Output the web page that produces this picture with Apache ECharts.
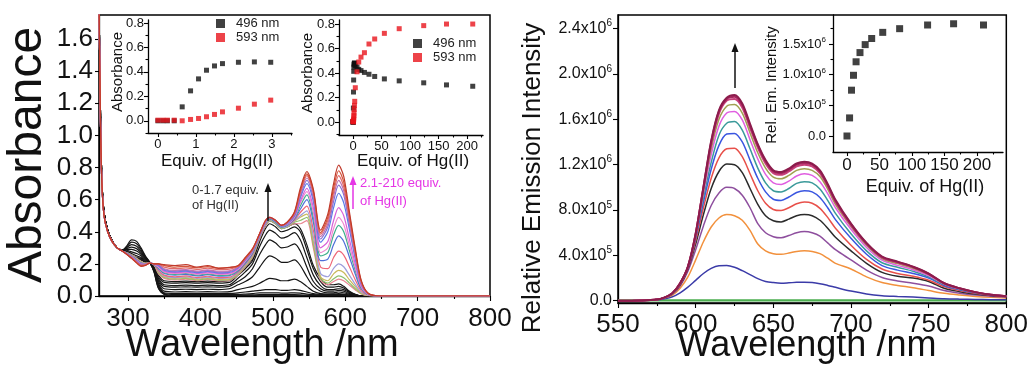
<!DOCTYPE html>
<html><head><meta charset="utf-8">
<script src="https://cdn.jsdelivr.net/npm/echarts@6/dist/echarts.min.js"></script>
<style>html,body{margin:0;padding:0;background:#fff}#c{width:1031px;height:366px}</style>
</head><body><div id="c"></div>
<script>
const FONT = "'Liberation Sans', Arial, Helvetica, sans-serif";

// ================= LEFT: absorption titration =================
const absWavelength = [260,262,264,267,272,278,285,292,298,305,312,318,324,330,336,342,350,365,380,395,410,425,440,452,462,472,482,490,496,504,512,520,530,538,547,556,566,576,584,591,598,606,614,622,632,650,800];

// 0 - 1.70 equiv (black curves)
const absEq000 = [1.85,1.15,0.72,0.52,0.41,0.345,0.30,0.285, 0.31,0.35,0.34,0.30,0.25,0.21, 0.15,0.05,0.01, 0,0,0,0,0,0, 0,0,0,0,0,0, 0,0,0,0,0,0, 0,0,0,0,0,0, 0,0,0,0,0,0];
const absEq013 = [1.85,1.15,0.72,0.52,0.41,0.345,0.30,0.285, 0.305,0.335,0.325,0.29,0.245,0.21, 0.15,0.05,0.012, 0.004,0.004,0.004,0.004,0.004,0.004, 0.005,0.006,0.007,0.008,0.008,0.008, 0.008,0.008,0.008,0.008,0.007,0.005, 0.003,0.002,0.002,0.002,0.002,0.002, 0.001,0,0,0,0,0];
const absEq025 = [1.85,1.15,0.72,0.52,0.41,0.345,0.30,0.285, 0.30,0.32,0.31,0.28,0.24,0.21, 0.155,0.06,0.015, 0.01,0.01,0.01,0.01,0.01,0.01, 0.01,0.012,0.015,0.02,0.02,0.02, 0.02,0.018,0.018,0.02,0.018,0.012, 0.008,0.005,0.004,0.004,0.005,0.004, 0.002,0,0,0,0,0];
const absEq043 = [1.85,1.15,0.72,0.52,0.41,0.345,0.30,0.285, 0.295,0.305,0.295,0.27,0.235,0.21, 0.16,0.07,0.02, 0.015,0.016,0.015,0.016,0.015,0.016, 0.02,0.025,0.03,0.035,0.04,0.04, 0.04,0.035,0.035,0.04,0.035,0.025, 0.015,0.01,0.008,0.008,0.009,0.008, 0.004,0.001,0,0,0,0];
const absEq064 = [1.85,1.15,0.72,0.52,0.41,0.345,0.30,0.285, 0.29,0.29,0.28,0.26,0.23,0.21, 0.165,0.08,0.03, 0.025,0.027,0.025,0.027,0.025,0.027, 0.04,0.05,0.06,0.08,0.10,0.11, 0.105,0.095,0.095,0.105,0.09,0.06, 0.03,0.015,0.012,0.013,0.015,0.012, 0.006,0.002,0,0,0,0];
const absEq086 = [1.85,1.15,0.72,0.52,0.41,0.345,0.30,0.285, 0.285,0.275,0.265,0.25,0.225,0.21, 0.17,0.09,0.045, 0.04,0.042,0.04,0.042,0.04,0.045, 0.07,0.09,0.12,0.18,0.23,0.25, 0.235,0.21,0.21,0.225,0.19,0.12, 0.06,0.03,0.02,0.02,0.025,0.02, 0.01,0.003,0,0,0,0];
const absEq107 = [1.85,1.15,0.72,0.52,0.41,0.345,0.30,0.285, 0.28,0.265,0.25,0.24,0.22,0.21, 0.17,0.10,0.06, 0.055,0.057,0.055,0.057,0.055,0.06, 0.09,0.12,0.17,0.26,0.32,0.35, 0.33,0.30,0.305,0.325,0.28,0.18, 0.09,0.045,0.03,0.03,0.035,0.03, 0.015,0.005,0,0,0,0];
const absEq128 = [1.85,1.15,0.72,0.52,0.41,0.345,0.30,0.285, 0.275,0.255,0.24,0.235,0.215,0.21, 0.175,0.11,0.07, 0.065,0.068,0.065,0.068,0.065,0.07, 0.11,0.15,0.20,0.31,0.38,0.41, 0.39,0.36,0.37,0.395,0.35,0.24, 0.13,0.065,0.04,0.04,0.045,0.04, 0.02,0.007,0,0,0,0];
const absEq149 = [1.85,1.15,0.72,0.52,0.41,0.345,0.30,0.285, 0.27,0.245,0.235,0.23,0.21,0.205, 0.18,0.12,0.085, 0.08,0.083,0.08,0.083,0.08,0.085, 0.13,0.17,0.22,0.34,0.42,0.45, 0.43,0.40,0.41,0.43,0.40,0.29, 0.17,0.09,0.055,0.055,0.06,0.05, 0.025,0.009,0,0,0,0];
const absEq170 = [1.85,1.15,0.72,0.52,0.41,0.345,0.30,0.285, 0.265,0.235,0.23,0.225,0.21,0.205, 0.18,0.13,0.095, 0.09,0.093,0.09,0.093,0.09,0.095, 0.14,0.18,0.23,0.36,0.44,0.47, 0.45,0.42,0.43,0.45,0.42,0.32, 0.19,0.11,0.07,0.07,0.075,0.06, 0.03,0.01,0,0,0,0];

// 2.1 - 210 equiv (coloured curves)
const absEq212 = [1.85,1.1,0.7,0.5,0.40,0.34,0.30,0.28, 0.27,0.255,0.235,0.215,0.205,0.205, 0.195,0.14,0.11, 0.10,0.105,0.095,0.103,0.094,0.097, 0.13,0.18,0.24,0.36,0.44,0.47, 0.45,0.42,0.43,0.45,0.45,0.47, 0.30,0.10,0.07,0.09,0.105,0.095, 0.067,0.038,0.013,0.002,0,0];
const absEq254 = [1.85,1.1,0.7,0.5,0.40,0.34,0.30,0.28, 0.27,0.254,0.233,0.213,0.204,0.205, 0.195,0.145,0.115, 0.105,0.11,0.10,0.108,0.099,0.102, 0.135,0.185,0.245,0.365,0.445,0.47, 0.45,0.42,0.43,0.46,0.47,0.49, 0.32,0.11,0.08,0.107,0.125,0.114, 0.08,0.045,0.015,0.003,0,0];
const absEq297 = [1.85,1.1,0.7,0.5,0.40,0.34,0.30,0.28, 0.269,0.252,0.231,0.211,0.203,0.205, 0.196,0.15,0.12, 0.11,0.115,0.105,0.113,0.104,0.107, 0.14,0.19,0.25,0.37,0.45,0.475, 0.455,0.425,0.435,0.465,0.49,0.51, 0.34,0.12,0.095,0.138,0.16,0.146, 0.10,0.058,0.019,0.004,0,0];
const absEq4 = [1.85,1.1,0.7,0.5,0.40,0.34,0.30,0.28, 0.268,0.251,0.229,0.209,0.202,0.205, 0.196,0.155,0.125, 0.115,0.12,0.11,0.118,0.109,0.112, 0.145,0.195,0.255,0.37,0.45,0.475, 0.455,0.425,0.435,0.47,0.50,0.53, 0.37,0.14,0.12,0.172,0.20,0.182, 0.128,0.072,0.024,0.005,0,0];
const absEq7 = [1.85,1.1,0.7,0.5,0.40,0.34,0.30,0.28, 0.268,0.249,0.227,0.207,0.201,0.205, 0.197,0.16,0.13, 0.12,0.125,0.115,0.123,0.114,0.117, 0.15,0.20,0.26,0.375,0.455,0.48, 0.46,0.43,0.44,0.475,0.52,0.56, 0.41,0.18,0.17,0.24,0.28,0.255, 0.18,0.10,0.034,0.006,0,0];
const absEq10 = [1.85,1.1,0.7,0.5,0.40,0.34,0.30,0.28, 0.267,0.248,0.225,0.205,0.20,0.205, 0.197,0.17,0.14, 0.13,0.135,0.125,0.133,0.124,0.127, 0.155,0.205,0.265,0.375,0.455,0.48, 0.46,0.43,0.44,0.48,0.54,0.60, 0.46,0.22,0.23,0.32,0.375,0.34, 0.24,0.135,0.045,0.008,0,0];
const absEq14 = [1.85,1.1,0.7,0.5,0.40,0.34,0.30,0.28, 0.266,0.246,0.223,0.203,0.199,0.205, 0.198,0.175,0.145, 0.135,0.14,0.13,0.138,0.129,0.132, 0.16,0.21,0.27,0.38,0.46,0.48, 0.46,0.43,0.445,0.485,0.56,0.63, 0.49,0.25,0.27,0.38,0.44,0.40, 0.28,0.158,0.053,0.009,0,0];
const absEq20 = [1.85,1.1,0.7,0.5,0.40,0.34,0.30,0.28, 0.265,0.245,0.221,0.201,0.198,0.205, 0.198,0.18,0.15, 0.14,0.145,0.135,0.143,0.134,0.137, 0.165,0.215,0.275,0.38,0.46,0.485, 0.465,0.435,0.445,0.49,0.58,0.65, 0.52,0.27,0.30,0.42,0.49,0.445, 0.31,0.176,0.059,0.01,0,0];
const absEq28 = [1.85,1.1,0.7,0.5,0.40,0.34,0.30,0.28, 0.265,0.244,0.219,0.199,0.197,0.205, 0.199,0.185,0.155, 0.145,0.15,0.14,0.148,0.139,0.142, 0.17,0.22,0.28,0.38,0.46,0.485, 0.465,0.435,0.45,0.495,0.59,0.67, 0.55,0.30,0.34,0.47,0.55,0.50, 0.35,0.198,0.066,0.011,0,0];
const absEq38 = [1.85,1.1,0.7,0.5,0.40,0.34,0.30,0.28, 0.264,0.242,0.217,0.197,0.196,0.205, 0.199,0.19,0.16, 0.15,0.155,0.145,0.153,0.144,0.147, 0.175,0.225,0.28,0.385,0.465,0.485, 0.465,0.435,0.45,0.50,0.61,0.70, 0.59,0.335,0.40,0.55,0.64,0.58, 0.41,0.23,0.077,0.013,0,0];
const absEq55 = [1.85,1.1,0.7,0.5,0.40,0.34,0.30,0.28, 0.263,0.241,0.215,0.195,0.195,0.205, 0.20,0.195,0.165, 0.155,0.16,0.15,0.158,0.149,0.152, 0.18,0.23,0.285,0.385,0.465,0.49, 0.47,0.44,0.455,0.505,0.62,0.72, 0.61,0.355,0.43,0.59,0.69,0.63, 0.44,0.248,0.083,0.014,0,0];
const absEq81 = [1.85,1.1,0.7,0.5,0.40,0.34,0.30,0.28, 0.262,0.239,0.213,0.193,0.194,0.205, 0.20,0.20,0.17, 0.16,0.165,0.155,0.163,0.154,0.157, 0.18,0.23,0.285,0.39,0.47,0.49, 0.47,0.44,0.455,0.51,0.635,0.735, 0.63,0.37,0.45,0.62,0.72,0.655, 0.46,0.26,0.086,0.014,0,0];
const absEq124 = [1.85,1.1,0.7,0.5,0.40,0.34,0.30,0.28, 0.262,0.238,0.211,0.191,0.193,0.205, 0.20,0.20,0.18, 0.17,0.175,0.165,0.173,0.164,0.167, 0.185,0.235,0.29,0.39,0.47,0.49, 0.47,0.44,0.46,0.515,0.645,0.75, 0.645,0.385,0.47,0.645,0.75,0.68, 0.48,0.27,0.09,0.015,0,0];
const absEq164 = [1.85,1.1,0.7,0.5,0.40,0.34,0.30,0.28, 0.261,0.236,0.208,0.188,0.192,0.205, 0.20,0.20,0.19, 0.18,0.185,0.175,0.183,0.174,0.177, 0.185,0.235,0.29,0.39,0.47,0.49, 0.47,0.44,0.46,0.52,0.655,0.76, 0.655,0.395,0.49,0.67,0.78,0.71, 0.50,0.28,0.094,0.016,0,0];
const absEq210 = [1.85,1.1,0.7,0.5,0.40,0.34,0.30,0.28, 0.26,0.235,0.205,0.185,0.19,0.205, 0.20,0.20,0.195, 0.19,0.195,0.18,0.19,0.172,0.178, 0.19,0.24,0.295,0.39,0.47,0.49, 0.47,0.44,0.46,0.525,0.67,0.775, 0.665,0.41,0.51,0.70,0.815,0.745, 0.52,0.295,0.10,0.016,0,0];

const absBlackCurves = [absEq000,absEq013,absEq025,absEq043,absEq064,absEq086,absEq107,absEq128,absEq149,absEq170];
const absColorCurves = [absEq212,absEq254,absEq297,absEq4,absEq7,absEq10,absEq14,absEq20,absEq28,absEq38,absEq55,absEq81,absEq124,absEq164,absEq210];
const absColorPalette = ['#e98592','#8cbf6c','#c9b95c','#9d9ddb','#ee6677','#4f6fd8','#3fae8c','#f08ad0','#d860d8','#5a7ae8','#8a70d0','#c070b0','#e06a6a','#d4553a','#c0392b'];

// insets (left)
const eqLow = [0,0.13,0.25,0.43,0.64,0.86,1.07,1.28,1.49,1.70,2.12,2.54,2.97];
const abs496Low = [0,0,0,0,0.114,0.245,0.343,0.414,0.449,0.468,0.479,0.482,0.479];
const abs593Low = [0.005,0.005,0.005,0.005,0,0.011,0.019,0.033,0.052,0.073,0.103,0.136,0.169];
const eqHigh = [4,7,10,14,20,28,38,55,81,124,164,210];
const abs496High = [0.46,0.45,0.43,0.42,0.405,0.39,0.372,0.352,0.336,0.32,0.303,0.292];
const abs593High = [0.28,0.41,0.49,0.53,0.566,0.637,0.678,0.724,0.762,0.787,0.80,0.80];

// ================= RIGHT: emission titration (units of 10^6) =================
const emWavelength = [550,565,575,580,585,590,595,600,605,610,615,620,625,630,635,640,645,650,655,660,665,670,675,680,685,690,700,710,720,730,740,750,760,770,780,790,800];
const emEq0   = [0.003,0.003,0.003,0.003,0.003,0.003,0.003,0.003,0.003,0.003,0.003,0.003,0.003,0.003,0.003,0.003,0.003,0.003,0.003,0.003,0.003,0.003,0.003,0.003,0.003,0.003,0.003,0.003,0.003,0.003,0.003,0.003,0.003,0.003,0.003,0.003,0.003];
const emEq4   = [0,0.002,0.008,0.018, 0.035,0.07,0.12,0.18,0.24,0.285,0.308,0.31,0.295,0.265,0.23,0.195,0.17,0.16,0.155,0.158,0.162,0.163,0.16,0.15,0.135,0.118, 0.085,0.06,0.045,0.038,0.032,0.025,0.018,0.014,0.011,0.009,0.008];
const emEq7   = [0,0.002,0.01,0.025, 0.05,0.11,0.21,0.36,0.52,0.65,0.73,0.76,0.75,0.71,0.62,0.50,0.44,0.415,0.41,0.42,0.435,0.44,0.435,0.415,0.375,0.33, 0.28,0.21,0.16,0.135,0.115,0.09,0.065,0.05,0.038,0.03,0.025];
const emEq10  = [0,0.002,0.01,0.027, 0.058,0.13,0.26,0.45,0.66,0.84,0.95,1.0,0.99,0.93,0.82,0.68,0.60,0.565,0.555,0.575,0.60,0.61,0.60,0.57,0.51,0.45, 0.36,0.27,0.205,0.175,0.155,0.13,0.09,0.066,0.05,0.04,0.034];
const emEq14  = [0,0.002,0.01,0.028, 0.06,0.14,0.28,0.50,0.76,0.99,1.14,1.205,1.20,1.13,0.99,0.85,0.75,0.705,0.695,0.72,0.75,0.76,0.75,0.71,0.64,0.56, 0.44,0.33,0.25,0.215,0.20,0.17,0.11,0.08,0.06,0.047,0.038];
const emEq20  = [0,0.002,0.01,0.028, 0.062,0.145,0.29,0.53,0.82,1.08,1.26,1.34,1.345,1.27,1.12,0.97,0.86,0.805,0.795,0.82,0.855,0.87,0.86,0.815,0.735,0.64, 0.49,0.365,0.28,0.24,0.215,0.18,0.125,0.09,0.066,0.05,0.04];
const emEq28  = [0,0.002,0.01,0.028, 0.064,0.15,0.295,0.555,0.87,1.16,1.37,1.47,1.475,1.40,1.24,1.08,0.96,0.895,0.885,0.915,0.955,0.97,0.96,0.91,0.82,0.715, 0.55,0.41,0.31,0.27,0.24,0.20,0.135,0.097,0.07,0.053,0.041];
const emEq38  = [0,0.002,0.01,0.028, 0.065,0.152,0.298,0.57,0.91,1.22,1.46,1.565,1.58,1.505,1.34,1.17,1.04,0.97,0.96,0.99,1.035,1.05,1.04,0.985,0.885,0.77, 0.59,0.44,0.335,0.295,0.26,0.21,0.142,0.10,0.072,0.053,0.041];
const emEq55  = [0,0.002,0.01,0.028, 0.066,0.153,0.30,0.58,0.95,1.29,1.54,1.655,1.67,1.595,1.42,1.25,1.115,1.04,1.025,1.055,1.10,1.12,1.105,1.05,0.945,0.82, 0.63,0.47,0.358,0.312,0.274,0.222,0.147,0.105,0.074,0.053,0.041];
const emEq81  = [0,0.002,0.01,0.028, 0.066,0.154,0.30,0.585,0.97,1.34,1.60,1.715,1.73,1.655,1.48,1.305,1.17,1.09,1.075,1.105,1.15,1.165,1.15,1.095,0.985,0.85, 0.655,0.49,0.372,0.327,0.287,0.232,0.151,0.107,0.075,0.053,0.041];
const emEq124 = [0,0.002,0.01,0.028, 0.067,0.155,0.30,0.59,0.99,1.38,1.65,1.765,1.78,1.705,1.525,1.35,1.21,1.125,1.11,1.14,1.185,1.20,1.185,1.125,1.01,0.87, 0.665,0.50,0.38,0.337,0.295,0.235,0.152,0.108,0.076,0.053,0.04];
const emEq164 = [0,0.002,0.01,0.028, 0.067,0.155,0.30,0.59,1.0,1.40,1.67,1.78,1.80,1.725,1.545,1.37,1.23,1.14,1.125,1.155,1.20,1.215,1.20,1.14,1.02,0.88, 0.675,0.505,0.385,0.342,0.298,0.238,0.154,0.109,0.076,0.053,0.04];
const emEq210 = [0,0.002,0.01,0.03, 0.067,0.155,0.30,0.59,1.0,1.41,1.68,1.79,1.815,1.74,1.56,1.38,1.24,1.15,1.135,1.165,1.21,1.225,1.21,1.15,1.03,0.89, 0.68,0.51,0.39,0.345,0.30,0.24,0.155,0.11,0.076,0.053,0.04];
const emCurves = [emEq0,emEq4,emEq7,emEq10,emEq14,emEq20,emEq28,emEq38,emEq55,emEq81,emEq124,emEq164,emEq210];
const emPalette = ['#4caf50','#3b3ba8','#f2913d','#8e4f9e','#2b2b2b','#e8504a','#3a56e0','#3a9a9a','#e05ee0','#a0a050','#c8407a','#a82860','#8c1c4c'];

// inset (right)
const emEqInset = [0,4,7,10,14,20,28,38,55,81,124,164,210];
const emPeakInset = [0,0.295,0.747,0.99,1.21,1.36,1.49,1.59,1.69,1.75,1.81,1.83,1.81];

// tick values
const absWlTicks = [300,400,500,600,700,800];
const absWlMinor = [350,450,550,650,750];
const absTicks = [0,0.2,0.4,0.6,0.8,1.0,1.2,1.4,1.6];
const insetAbsTicks = [0,0.2,0.4,0.6,0.8];
const insetAbsMinor = [-0.1,0.1,0.3,0.5,0.7];
const insetEqLowTicks = [0,1,2,3];
const insetEqLowMinor = [0.5,1.5,2.5,3.5];
const insetEqTicks = [0,50,100,150,200];
const insetEqMinor = [25,75,125,175,225];
const emWlTicks = [550,600,650,700,750,800];
const emWlMinor = [575,625,675,725,775];
const emTicks = [0,0.4,0.8,1.2,1.6,2.0,2.4];
const emInsetTicks = [0,0.5,1.0,1.5];
const emInsetMinor = [0.25,0.75,1.25,1.75];

// ================= helpers =================
const zip = (xs, ys) => xs.map((x, i) => [x, ys[i]]);
function axis(o) {
  return {
    type: 'value', gridIndex: o.grid, min: o.min, max: o.max, position: o.pos,
    axisLine: { show: o.line !== false, onZero: false, lineStyle: { color: '#000', width: o.lw || 1.3 } },
    axisTick: { show: true, inside: false, length: o.tl || 5, customValues: o.ticks, lineStyle: { color: '#000', width: 1.1 } },
    axisLabel: o.fs ? { show: true, customValues: o.ticks, margin: o.margin, fontSize: o.fs, fontFamily: FONT, color: '#111',
      formatter: o.fmt, rich: o.rich, lineHeight: o.lh } : { show: false },
    splitLine: { show: false }
  };
}
const f1 = v => v.toFixed(1);
const fInt = v => String(v);
const supRich = fs => ({ s: { fontSize: fs, fontFamily: FONT, color: '#111', verticalAlign: 'top', lineHeight: fs + 2 } });
const fEm = v => v === 0 ? '0.0' : (v < 1 ? (v * 10).toFixed(1) + 'x10{s|5}' : v.toFixed(1) + 'x10{s|6}');

const grids = [
  { left: 99, top: 15, width: 391, height: 281, show: true, borderColor: '#000', borderWidth: 1.5, backgroundColor: 'transparent' },
  { left: 148, top: 20, width: 144, height: 113 },
  { left: 339, top: 20, width: 144, height: 115 },
  { left: 618, top: 15, width: 389, height: 288, show: true, borderColor: '#000', borderWidth: 1.5, backgroundColor: 'transparent' },
  { left: 833, top: 15, width: 170, height: 137 }
];

const xAxes = [
  axis({ grid: 0, min: 260, max: 800, pos: 'bottom', ticks: absWlTicks, fs: 26, margin: 10, fmt: fInt }),
  axis({ grid: 0, min: 260, max: 800, pos: 'bottom', ticks: absWlMinor, tl: 3, line: false }),
  axis({ grid: 1, min: -0.26, max: 3.53, pos: 'bottom', ticks: insetEqLowTicks, fs: 13, margin: 5, tl: 4, fmt: fInt }),
  axis({ grid: 1, min: -0.26, max: 3.53, pos: 'bottom', ticks: insetEqLowMinor, tl: 2.5, line: false }),
  axis({ grid: 2, min: -24.6, max: 228, pos: 'bottom', ticks: insetEqTicks, fs: 13, margin: 5, tl: 4, fmt: fInt }),
  axis({ grid: 2, min: -24.6, max: 228, pos: 'bottom', ticks: insetEqMinor, tl: 2.5, line: false }),
  axis({ grid: 3, min: 550, max: 800, pos: 'bottom', ticks: emWlTicks, fs: 26, margin: 9, fmt: fInt }),
  axis({ grid: 3, min: 550, max: 800, pos: 'bottom', ticks: emWlMinor, tl: 3, line: false }),
  axis({ grid: 4, min: -21.5, max: 240, pos: 'bottom', ticks: insetEqTicks, fs: 17, margin: 5, tl: 4, fmt: fInt }),
  axis({ grid: 4, min: -21.5, max: 240, pos: 'bottom', ticks: insetEqMinor, tl: 2.5, line: false })
];
const yAxes = [
  axis({ grid: 0, min: 0, max: 1.75, pos: 'left', ticks: absTicks, fs: 26, margin: 6, tl: 4, fmt: f1 }),
  axis({ grid: 1, min: -0.1, max: 0.825, pos: 'left', ticks: insetAbsTicks, fs: 13, margin: 4, tl: 4, fmt: f1 }),
  axis({ grid: 1, min: -0.1, max: 0.825, pos: 'left', ticks: insetAbsMinor, tl: 2.5, line: false }),
  axis({ grid: 2, min: -0.106, max: 0.833, pos: 'left', ticks: insetAbsTicks, fs: 13, margin: 4, tl: 4, fmt: f1 }),
  axis({ grid: 2, min: -0.106, max: 0.833, pos: 'left', ticks: insetAbsMinor, tl: 2.5, line: false }),
  axis({ grid: 3, min: -0.02, max: 2.52, pos: 'left', ticks: emTicks, fs: 16, margin: 6, tl: 5, fmt: fEm, rich: supRich(10), lh: 20 }),
  axis({ grid: 4, min: -0.261, max: 1.973, pos: 'left', ticks: emInsetTicks, fs: 13, margin: 7, tl: 4, fmt: fEm, rich: supRich(8), lh: 16 }),
  axis({ grid: 4, min: -0.261, max: 1.973, pos: 'left', ticks: emInsetMinor, tl: 2.5, line: false })
];

const series = [];
absBlackCurves.forEach((c, i) => series.push({ type: 'line', xAxisIndex: 0, yAxisIndex: 0, data: zip(absWavelength, c),
  showSymbol: false, smooth: 0.3, lineStyle: { width: 1.2, color: '#151515' }, itemStyle: { color: '#151515' }, z: 3, silent: true }));
absColorCurves.forEach((c, i) => series.push({ type: 'line', xAxisIndex: 0, yAxisIndex: 0, data: zip(absWavelength, c),
  showSymbol: false, smooth: 0.3, lineStyle: { width: 1.2, color: absColorPalette[i] }, itemStyle: { color: absColorPalette[i] }, z: 4, silent: true }));
emCurves.forEach((c, i) => series.push({ type: 'line', xAxisIndex: 6, yAxisIndex: 5, data: zip(emWavelength, c),
  showSymbol: false, smooth: 0.3, lineStyle: { width: i === 0 ? 2.2 : (i >= 10 ? 2 : 1.5), color: emPalette[i] }, itemStyle: { color: emPalette[i] }, z: 3, silent: true }));

const BLK = '#111', RED = '#e8141c';
series.push({ name: '496 nm', type: 'scatter', xAxisIndex: 2, yAxisIndex: 1, symbol: 'rect', symbolSize: 5, itemStyle: { color: BLK }, data: zip(eqLow, abs496Low), z: 5 });
series.push({ name: '593 nm', type: 'scatter', xAxisIndex: 2, yAxisIndex: 1, symbol: 'rect', symbolSize: 5, itemStyle: { color: RED }, data: zip(eqLow, abs593Low), z: 6 });
series.push({ name: '496 nm', type: 'scatter', xAxisIndex: 4, yAxisIndex: 3, symbol: 'rect', symbolSize: 5, itemStyle: { color: BLK }, data: zip(eqLow.concat(eqHigh), abs496Low.concat(abs496High)), z: 5 });
series.push({ name: '593 nm', type: 'scatter', xAxisIndex: 4, yAxisIndex: 3, symbol: 'rect', symbolSize: 5, itemStyle: { color: RED }, data: zip(eqLow.concat(eqHigh), abs593Low.concat(abs593High)), z: 6 });
series.push({ name: 'Rel. Em.', type: 'scatter', xAxisIndex: 8, yAxisIndex: 6, symbol: 'rect', symbolSize: 7, itemStyle: { color: BLK }, data: zip(emEqInset, emPeakInset), z: 5 });

function txt(x, y, s, fs, o = {}) {
  return { type: 'text', x, y, rotation: o.rot || 0, z: 100, silent: true,
    style: { text: s, fontSize: fs, fontFamily: FONT, fill: o.color || '#111', align: o.align || 'center', verticalAlign: o.va || 'middle' } };
}
function arrow(x, y1, y2, color) {
  return [
    { type: 'line', z: 100, silent: true, shape: { x1: x, y1: y1, x2: x, y2: y2 + 6 }, style: { stroke: color, lineWidth: 1.5 } },
    { type: 'polygon', z: 100, silent: true, shape: { points: [[x, y2], [x - 3.5, y2 + 9], [x + 3.5, y2 + 9]] }, style: { fill: color } }
  ];
}
const R90 = Math.PI / 2;
const graphics = [
  txt(28, 155, 'Absorbance', 48, { rot: R90 }),
  txt(262, 346, 'Wavelength /nm', 38),
  txt(533, 178, 'Relative Emission Intensity', 26, { rot: R90 }),
  txt(807, 346, 'Wavelength /nm', 36),
  txt(118, 72, 'Absorbance', 15, { rot: R90 }),
  txt(308, 73, 'Absorbance', 15, { rot: R90 }),
  txt(772, 85, 'Rel. Em. Intensity', 15, { rot: R90 }),
  txt(217, 161, 'Equiv. of Hg(II)', 17),
  txt(413, 161, 'Equiv. of Hg(II)', 17),
  txt(925, 187, 'Equiv. of Hg(II)', 18),
  txt(192, 190, '0-1.7 equiv.', 13, { align: 'left', color: '#333' }),
  txt(192, 205, 'of Hg(II)', 13, { align: 'left', color: '#333' }),
  txt(360, 183, '2.1-210 equiv.', 13, { align: 'left', color: '#e535e5' }),
  txt(360, 201, 'of Hg(II)', 13, { align: 'left', color: '#e535e5' }),
  ...arrow(268, 221, 183, '#111'),
  ...arrow(353, 209, 176, '#e535e5'),
  ...arrow(735, 88, 43, '#111')
];

const legendBase = { orient: 'vertical', itemWidth: 9, itemHeight: 9, itemGap: 1, padding: 0, selectedMode: false,
  textStyle: { fontSize: 13, fontFamily: FONT, color: '#222', padding: [0, 0, 0, 6] },
  data: [{ name: '496 nm', icon: 'rect' }, { name: '593 nm', icon: 'rect' }] };

const chart = echarts.init(document.getElementById('c'), null, { renderer: 'canvas' });
chart.setOption({
  animation: false,
  backgroundColor: '#fff',
  grid: grids,
  xAxis: xAxes,
  yAxis: yAxes,
  legend: [Object.assign({}, legendBase, { left: 216, top: 17 }), Object.assign({}, legendBase, { left: 413, top: 37 })],
  series: series,
  graphic: graphics
});
</script></body></html>
